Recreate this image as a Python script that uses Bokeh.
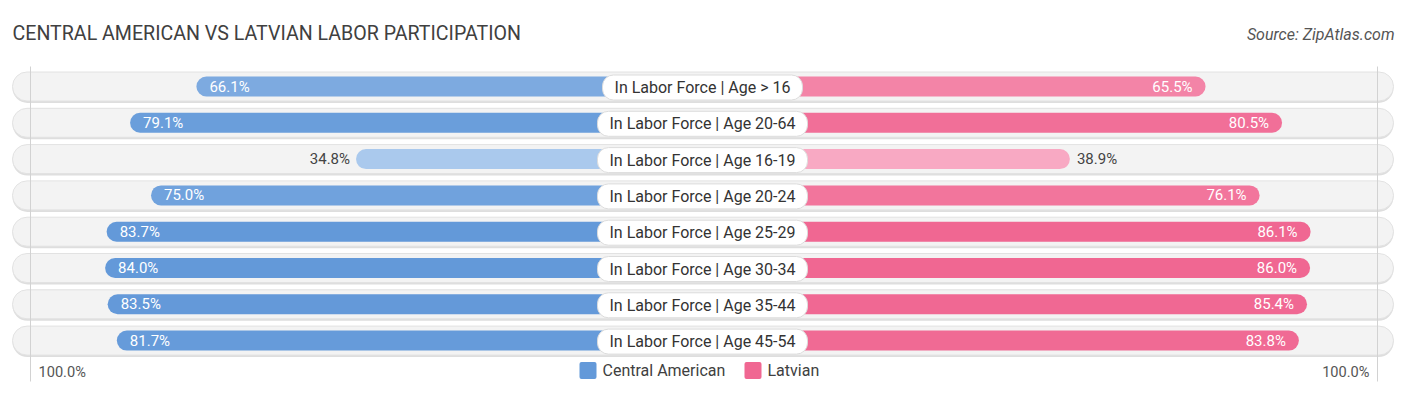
from bokeh.plotting import figure
from bokeh.models import Range1d, ColumnDataSource
from bokeh.core.properties import value
from bokeh.embed import file_html
from bokeh.resources import INLINE

# ---------------- data ----------------
categories = [
    "In Labor Force | Age > 16",
    "In Labor Force | Age 20-64",
    "In Labor Force | Age 16-19",
    "In Labor Force | Age 20-24",
    "In Labor Force | Age 25-29",
    "In Labor Force | Age 30-34",
    "In Labor Force | Age 35-44",
    "In Labor Force | Age 45-54",
]
central_american = [66.1, 79.1, 34.8, 75.0, 83.7, 84.0, 83.5, 81.7]
latvian = [65.5, 80.5, 38.9, 76.1, 86.1, 86.0, 85.4, 83.8]
series_names = ["Central American", "Latvian"]
axis_labels = ["100.0%", "100.0%"]
title_text = "CENTRAL AMERICAN VS LATVIAN LABOR PARTICIPATION"
source_text = "Source: ZipAtlas.com"

# ---------------- layout helpers ----------------
FONT = value("Roboto")
K = 5.1          # px per percent
CX = 702.0       # screen x of centre
ROW0 = 86.0      # screen y of first row centre
S = 36.3         # px between rows
OFF = 169.0 / K  # gap under the label, in percent units


def X(px):
    return (px - CX) / K


def Y(py):
    return (py - ROW0) / S


def mix(c1, c2, t):
    t = max(0.0, min(1.0, t))
    a = [int(c1[i:i + 2], 16) for i in (1, 3, 5)]
    b = [int(c2[i:i + 2], 16) for i in (1, 3, 5)]
    return "#%02x%02x%02x" % tuple(round(a[k] + (b[k] - a[k]) * t) for k in range(3))


W, H = 1398, 387
p = figure(width=W, height=H, output_backend="svg", toolbar_location=None,
           x_range=Range1d(X(0), X(W)), y_range=Range1d(Y(H), Y(0)),
           x_axis_type=None, y_axis_type=None, min_border=0,
           background_fill_color="white", border_fill_color="white")
p.outline_line_color = None
p.grid.visible = False

n = len(categories)
rows = list(range(n))

# row backgrounds (shadow + body)
p.hbar(y=[r + 1.5 / S for r in rows], left=X(12), right=X(1393), height=30 / S,
       fill_color="#dedede", line_color=None, border_radius=15)
p.hbar(y=rows, left=X(12), right=X(1393), height=29 / S,
       fill_color="#f3f3f3", line_color="#e2e2e2", line_width=1, border_radius=15)

# faint vertical guide lines
p.segment(x0=[X(30), X(1377)], y0=Y(66), x1=[X(30), X(1377)], y1=Y(381),
          line_color="#d2d2d2", line_width=1)

# bar colours by value
cmin, cmax = min(central_american), max(central_american)
lmin, lmax = min(latvian), max(latvian)
c_cols = [mix("#aac9ed", "#6399d9", (v - cmin) / (cmax - cmin)) for v in central_american]
l_cols = [mix("#f8a9c3", "#f06792", (v - lmin) / (lmax - lmin)) for v in latvian]

src = ColumnDataSource(dict(
    y=rows, cat=categories, ca=central_american, lv=latvian,
    ca_left=[-(OFF + v) for v in central_american],
    lv_right=[OFF + v for v in latvian],
    ca_col=c_cols, lv_col=l_cols,
))

p.hbar(y="y", left="ca_left", right=0, height=20 / S, fill_color="ca_col",
       line_color=None, border_radius=10, source=src)
p.hbar(y="y", left=0, right="lv_right", height=20 / S, fill_color="lv_col",
       line_color=None, border_radius=10, source=src)

# value labels
THR = 50
for i in rows:
    v = central_american[i]
    inside = v >= THR
    p.text(x=[-(OFF + v)], y=[i], text=["%.1f%%" % v],
           x_offset=13 if inside else -6,
           text_align="left" if inside else "right", text_baseline="middle",
           text_color="white" if inside else "#444444",
           text_font=FONT, text_font_size="15px")
    v = latvian[i]
    inside = v >= THR
    p.text(x=[OFF + v], y=[i], text=["%.1f%%" % v],
           x_offset=-13 if inside else 7,
           text_align="right" if inside else "left", text_baseline="middle",
           text_color="white" if inside else "#444444",
           text_font=FONT, text_font_size="15px")

# category labels in white pills
p.text(x=0, y="y", text="cat", source=src, text_align="center",
       text_baseline="middle", text_color="#333333", text_font=FONT,
       text_font_size="16px", background_fill_color="white",
       border_line_color="#dcdcdc", border_line_width=1, border_radius=11,
       padding=dict(left=12, right=12, top=3, bottom=3), y_offset=1)

# title and source
p.text(x=[X(12)], y=[Y(33)], text=[title_text], text_align="left",
       text_baseline="middle", text_color="#404040", text_font=FONT,
       text_font_size="19.6px")
p.text(x=[X(1394)], y=[Y(34)], text=[source_text], text_align="right",
       text_baseline="middle", text_color="#555555", text_font=FONT,
       text_font_size="16px", text_font_style="italic")

# bottom axis labels
p.text(x=[X(38)], y=[Y(371)], text=[axis_labels[0]], text_align="left",
       text_baseline="middle", text_color="#555555", text_font=FONT,
       text_font_size="14.6px")
p.text(x=[X(1369)], y=[Y(371)], text=[axis_labels[1]], text_align="right",
       text_baseline="middle", text_color="#555555", text_font=FONT,
       text_font_size="14.6px")

# legend
p.hbar(y=[Y(370), Y(370)], left=[X(579), X(744)], right=[X(596), X(761)],
       height=17 / S, fill_color=[c_cols[5], l_cols[4]], line_color=None,
       border_radius=2)
p.text(x=[X(602), X(767)], y=[Y(370), Y(370)], text=series_names,
       text_align="left", text_baseline="middle", text_color="#404040",
       text_font=FONT, text_font_size="16px")

open("out.html", "w").write(file_html(p, INLINE))
